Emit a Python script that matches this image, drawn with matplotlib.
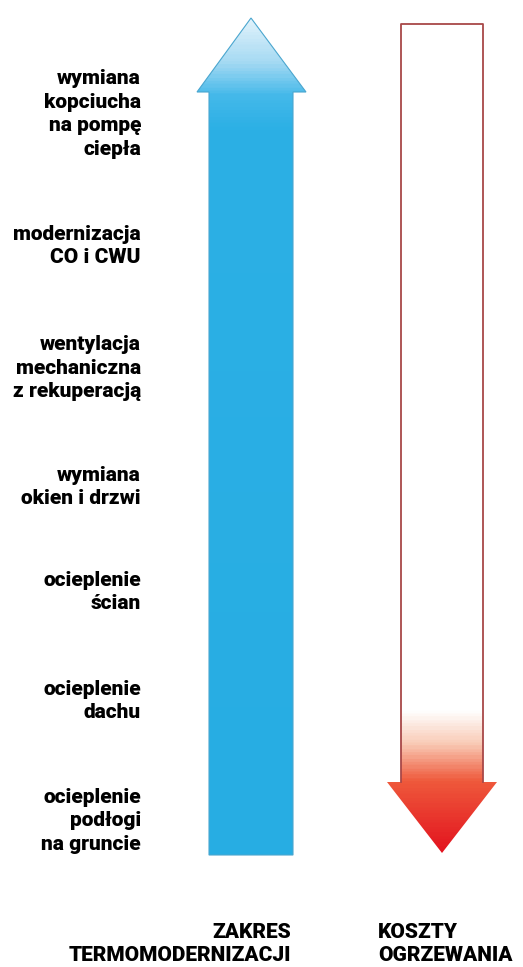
import matplotlib.pyplot as plt
import matplotlib.font_manager as fm
from matplotlib.patches import Polygon
from matplotlib.colors import LinearSegmentedColormap
import numpy as np

# labels on the left, from top to bottom
steps = ['wymiana\nkopciucha\nna pompę\nciepła',
         'modernizacja\nCO i CWU',
         'wentylacja\nmechaniczna\nz rekuperacją',
         'wymiana\nokien i drzwi',
         'ocieplenie\nścian',
         'ocieplenie\ndachu',
         'ocieplenie\npodłogi\nna gruncie']
left_title = 'ZAKRES\nTERMOMODERNIZACJI'
right_title = 'KOSZTY\nOGRZEWANIA'

# vertical centre of each label block (pixel rows)
step_y = [114, 246, 368, 487, 592, 701, 821]

W, H = 523, 967

names = {f.name for f in fm.fontManager.ttflist}
family = ['Liberation Sans Narrow', 'Roboto', 'DejaVu Sans']
family = [f for f in family if f in names] or ['DejaVu Sans']
plt.rcParams['font.family'] = family

fig = plt.figure(figsize=(W / 100, H / 100), dpi=100)
ax = fig.add_axes([0, 0, 1, 1])
ax.set_xlim(0, W)
ax.set_ylim(H, 0)
ax.axis('off')

grad = np.linspace(0, 1, 600).reshape(-1, 1)

# blue arrow (up)
blue_pts = [(209, 855), (209, 92), (197, 92), (251, 18), (306, 92),
            (293, 92), (293, 855)]
ax.add_patch(Polygon(blue_pts, closed=True, facecolor='none', edgecolor='#4aa6cf',
                     lw=0.8, zorder=3))
bcmap = LinearSegmentedColormap.from_list('b', [(0, '#e0f2fb'), (0.05, '#a6daf3'),
                                                (0.09, '#45b9ea'), (0.13, '#2cb0e5'),
                                                (1, '#27ade3')])
im = ax.imshow(grad, cmap=bcmap, extent=(197, 306, 855, 18), aspect='auto', zorder=2)
im.set_clip_path(Polygon(blue_pts, closed=True, transform=ax.transData))

# red arrow (down)
red_pts = [(401, 24), (483, 24), (483, 782), (497, 782), (442, 853),
           (387, 782), (401, 782)]
rcmap = LinearSegmentedColormap.from_list('r', [(0, '#ffffff'), (0.83, '#ffffff'),
                                                (0.87, '#f9cbb6'), (0.915, '#ef5a3c'),
                                                (1, '#e3141f')])
im2 = ax.imshow(grad, cmap=rcmap, extent=(387, 497, 853, 24), aspect='auto', zorder=2)
im2.set_clip_path(Polygon(red_pts, closed=True, transform=ax.transData))
ax.plot([401, 401, 483, 483], [782, 24, 24, 782], color='#a84848', lw=1.3, zorder=3)

# step labels
for txt, y in zip(steps, step_y):
    ax.text(141, y, txt, ha='right', va='center', fontsize=15, fontweight='heavy',
            color='black', linespacing=1.3)

ax.text(291, 944, left_title, ha='right', va='center', fontsize=15, fontweight='heavy',
        color='black', linespacing=1.3, multialignment='right')
ax.text(378, 944, right_title, ha='left', va='center', fontsize=15, fontweight='heavy',
        color='black', linespacing=1.3)

fig.savefig('out.png', dpi=100)
